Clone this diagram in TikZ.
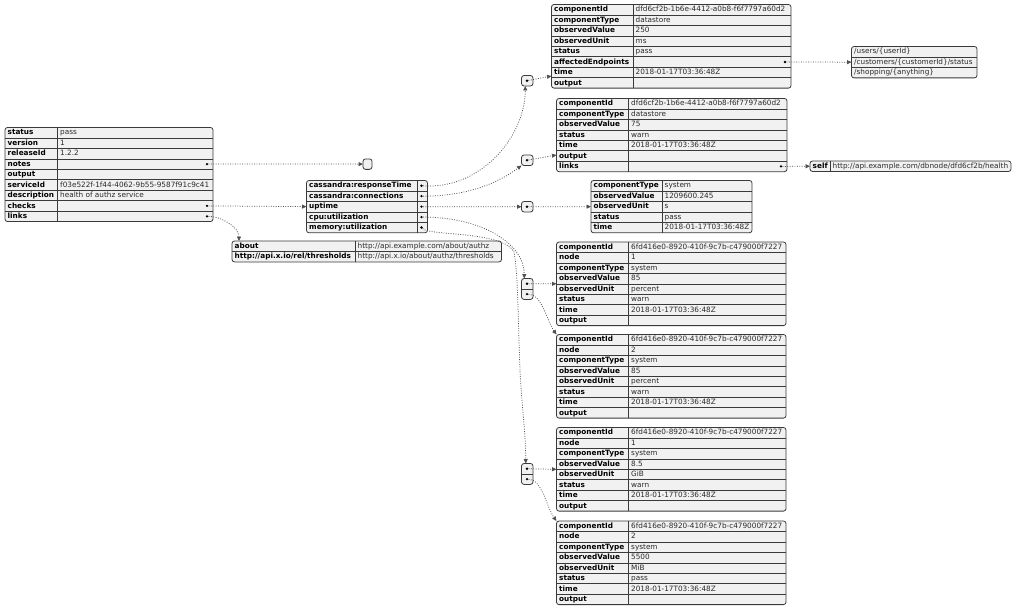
\documentclass[tikz,border=0pt]{standalone}
\usepackage{fontspec}
\setmainfont{DejaVu Sans}
\usetikzlibrary{calc,arrows.meta}

\definecolor{jline}{HTML}{3A3A3A}
\definecolor{jfill}{HTML}{F1F1F1}
\definecolor{jtext}{HTML}{2A2A2A}
\definecolor{jconn}{HTML}{505050}

\newcommand\rh{10.45}
% frame of a json table: name, left, top, divider (0 = none), right, rows
\newcommand\jtab[6]{%
  \node[jtab, minimum width={#5-#2}, minimum height={#6*\rh}] (#1) at (#2,#3) {};
  \coordinate (#1-d) at (#4,#3);
  \ifdim#4pt>0pt \draw[jsep] (#1-d) -- ++(0,{#6*\rh});\fi
  \ifnum#6>1
    \foreach \jr in {2,...,#6}
      \draw[jsep] ($(#1.north west)+(0,{(\jr-1)*\rh})$) -- ($(#1.north east)+(0,{(\jr-1)*\rh})$);
  \fi
}
\newcommand\jkey[3]{\node[jkey] (#1-k#2) at ($(#1.north west)+(2.5,{(#2-0.5)*\rh})$) {#3};}
\newcommand\jval[3]{\node[jval] (#1-v#2) at ($(#1-d)+(2.5,{(#2-0.5)*\rh})$) {#3};}
\newcommand\jcell[3]{\node[jval] (#1-v#2) at ($(#1.north west)+(2.5,{(#2-0.5)*\rh})$) {#3};}
\newcommand\jrow[4]{\jkey{#1}{#2}{#3}\jval{#1}{#2}{#4}}
\newcommand\jdot[3]{\node[jdot] (#3) at ($(#1.north east)+(-6,{(#2-0.5)*\rh})$) {};}

\tikzset{
  jtab/.style={draw=jline, fill=jfill, line width=0.8pt, rounded corners=2.5pt,
    inner sep=0pt, outer sep=0pt, anchor=north west},
  jsep/.style={draw=jline, line width=0.6pt},
  jkey/.style={anchor=west, inner sep=0pt, text height=5.6pt, text depth=1.2pt,
    font=\fontsize{7.3}{9}\selectfont\bfseries},
  jval/.style={anchor=west, inner sep=0pt, text height=5.6pt, text depth=1.2pt,
    text=jtext, font=\fontsize{7.3}{9}\selectfont},
  jdot/.style={circle, fill=black, inner sep=0pt, minimum size=2.6pt},
  conn/.style={draw=jconn, line width=0.75pt, dash pattern=on 0.9pt off 1.5pt,
    -{Triangle[length=4.5pt,width=4pt]}},
}

\begin{document}
\begin{tikzpicture}[x=1pt,y=-1pt]
\useasboundingbox (0,0) rectangle (1024,610);

% root object
\jtab{root}{5}{127.5}{57.5}{213}{9}
\jrow{root}{1}{status}{pass}
\jrow{root}{2}{version}{1}
\jrow{root}{3}{releaseId}{1.2.2}
\jkey{root}{4}{notes}
\jkey{root}{5}{output}
\jrow{root}{6}{serviceId}{f03e522f-1f44-4062-9b55-9587f91c9c41}
\jrow{root}{7}{description}{health of authz service}
\jkey{root}{8}{checks}
\jkey{root}{9}{links}
\jdot{root}{4}{root-notes}
\jdot{root}{8}{root-checks}
\jdot{root}{9}{root-links}

\jtab{notesbox}{363}{158.9}{0}{372}{1}

% checks
\jtab{checks}{306.5}{180.5}{417}{427.5}{5}
\jkey{checks}{1}{cassandra:responseTime}
\jkey{checks}{2}{cassandra:connections}
\jkey{checks}{3}{uptime}
\jkey{checks}{4}{cpu:utilization}
\jkey{checks}{5}{memory:utilization}
\jdot{checks}{1}{checks-rt}
\jdot{checks}{2}{checks-conn}
\jdot{checks}{3}{checks-up}
\jdot{checks}{4}{checks-cpu}
\jdot{checks}{5}{checks-mem}

% links
\jtab{links}{232}{241}{355}{501.5}{2}
\jrow{links}{1}{about}{http://api.example.com/about/authz}
\jrow{links}{2}{http://api.x.io/rel/thresholds}{http://api.x.io/about/authz/thresholds}

% arrays
\jtab{rtbox}{521.5}{75.5}{0}{533}{1}
\jtab{connbox}{521.5}{155}{0}{533}{1}
\jtab{upbox}{521.5}{201.5}{0}{533}{1}
\jtab{cpubox}{521.5}{278.5}{0}{533}{2}
\jtab{membox}{521.5}{463.5}{0}{533}{2}
\jdot{rtbox}{1}{rtbox-1}
\jdot{connbox}{1}{connbox-1}
\jdot{upbox}{1}{upbox-1}
\jdot{cpubox}{1}{cpubox-1}
\jdot{cpubox}{2}{cpubox-2}
\jdot{membox}{1}{membox-1}
\jdot{membox}{2}{membox-2}

% cassandra:responseTime
\jtab{rt}{551.5}{4.5}{633}{791}{8}
\jrow{rt}{1}{componentId}{dfd6cf2b-1b6e-4412-a0b8-f6f7797a60d2}
\jrow{rt}{2}{componentType}{datastore}
\jrow{rt}{3}{observedValue}{250}
\jrow{rt}{4}{observedUnit}{ms}
\jrow{rt}{5}{status}{pass}
\jkey{rt}{6}{affectedEndpoints}
\jrow{rt}{7}{time}{2018-01-17T03:36:48Z}
\jkey{rt}{8}{output}
\jdot{rt}{6}{rt-ae}

\jtab{ep}{851.5}{46.5}{0}{977}{3}
\jcell{ep}{1}{/users/\{userId\}}
\jcell{ep}{2}{/customers/\{customerId\}/status}
\jcell{ep}{3}{/shopping/\{anything\}}

% cassandra:connections
\jtab{conn}{556.5}{98.5}{628.5}{787}{7}
\jrow{conn}{1}{componentId}{dfd6cf2b-1b6e-4412-a0b8-f6f7797a60d2}
\jrow{conn}{2}{componentType}{datastore}
\jrow{conn}{3}{observedValue}{75}
\jrow{conn}{4}{status}{warn}
\jrow{conn}{5}{time}{2018-01-17T03:36:48Z}
\jkey{conn}{6}{output}
\jkey{conn}{7}{links}
\jdot{conn}{7}{conn-links}

\jtab{self}{810}{161}{830}{1011}{1}
\jrow{self}{1}{self}{http://api.example.com/dbnode/dfd6cf2b/health}

% uptime
\jtab{up}{591}{180.5}{662}{752}{5}
\jrow{up}{1}{componentType}{system}
\jrow{up}{2}{observedValue}{1209600.245}
\jrow{up}{3}{observedUnit}{s}
\jrow{up}{4}{status}{pass}
\jrow{up}{5}{time}{2018-01-17T03:36:48Z}

% cpu:utilization
\jtab{cpu1}{556.5}{242}{628.5}{786}{8}
\jrow{cpu1}{1}{componentId}{6fd416e0-8920-410f-9c7b-c479000f7227}
\jrow{cpu1}{2}{node}{1}
\jrow{cpu1}{3}{componentType}{system}
\jrow{cpu1}{4}{observedValue}{85}
\jrow{cpu1}{5}{observedUnit}{percent}
\jrow{cpu1}{6}{status}{warn}
\jrow{cpu1}{7}{time}{2018-01-17T03:36:48Z}
\jkey{cpu1}{8}{output}

\jtab{cpu2}{556.5}{334.5}{628.5}{786}{8}
\jrow{cpu2}{1}{componentId}{6fd416e0-8920-410f-9c7b-c479000f7227}
\jrow{cpu2}{2}{node}{2}
\jrow{cpu2}{3}{componentType}{system}
\jrow{cpu2}{4}{observedValue}{85}
\jrow{cpu2}{5}{observedUnit}{percent}
\jrow{cpu2}{6}{status}{warn}
\jrow{cpu2}{7}{time}{2018-01-17T03:36:48Z}
\jkey{cpu2}{8}{output}

% memory:utilization
\jtab{mem1}{556.5}{427.5}{628.5}{786}{8}
\jrow{mem1}{1}{componentId}{6fd416e0-8920-410f-9c7b-c479000f7227}
\jrow{mem1}{2}{node}{1}
\jrow{mem1}{3}{componentType}{system}
\jrow{mem1}{4}{observedValue}{8.5}
\jrow{mem1}{5}{observedUnit}{GiB}
\jrow{mem1}{6}{status}{warn}
\jrow{mem1}{7}{time}{2018-01-17T03:36:48Z}
\jkey{mem1}{8}{output}

\jtab{mem2}{556.5}{521}{628.5}{786}{8}
\jrow{mem2}{1}{componentId}{6fd416e0-8920-410f-9c7b-c479000f7227}
\jrow{mem2}{2}{node}{2}
\jrow{mem2}{3}{componentType}{system}
\jrow{mem2}{4}{observedValue}{5500}
\jrow{mem2}{5}{observedUnit}{MiB}
\jrow{mem2}{6}{status}{pass}
\jrow{mem2}{7}{time}{2018-01-17T03:36:48Z}
\jkey{mem2}{8}{output}

% arrow ends
\coordinate (links-in) at ($(links.north west)+(7,0)$);
\coordinate (rtbox-in) at ($(rtbox.south)+(-2,0)$);
\coordinate (cpubox-in) at ($(cpubox.north)+(-3,0)$);
\coordinate (membox-in) at ($(membox.north)+(-1.5,0)$);
\coordinate (rt-in) at ($(rt.north west)+(0,71.5)$);
\coordinate (conn-in) at ($(conn.north west)+(0,56.5)$);

% connectors
\draw[conn] (root-notes) -- (notesbox.west);
\draw[conn] (root-checks) -- (checks.west);
\draw[conn] (root-links) .. controls +(14,0) and +(0,-14) .. (links-in);
\draw[conn] (checks-rt) .. controls +(60,4) and +(0,50) .. (rtbox-in);
\draw[conn] (checks-conn) .. controls +(50,0) and +(-20,15) .. (connbox.south west);
\draw[conn] (checks-up) -- (upbox.west);
\draw[conn] (checks-cpu) .. controls +(60,0) and +(0,-35) .. (cpubox-in);
\draw[conn] (checks-mem) .. controls (430,236) and (503,231) .. (514,252)
  .. controls (518,272) and (518,320) .. (520,370)
  .. controls (522,410) and (525.5,430) .. (membox-in);
\draw[conn] (rtbox-1) -- (rt-in);
\draw[conn] (connbox-1) -- (conn-in);
\draw[conn] (upbox-1) -- (up.west);
\draw[conn] (cpubox-1) -- (cpu1.west);
\draw[conn] (cpubox-2) .. controls +(15,0) and +(-10,-14) .. (cpu2.north west);
\draw[conn] (membox-1) -- (mem1.west);
\draw[conn] (membox-2) .. controls +(15,0) and +(-10,-14) .. (mem2.north west);
\draw[conn] (rt-ae) -- (ep.west);
\draw[conn] (conn-links) -- (self.west);
\end{tikzpicture}
\end{document}
